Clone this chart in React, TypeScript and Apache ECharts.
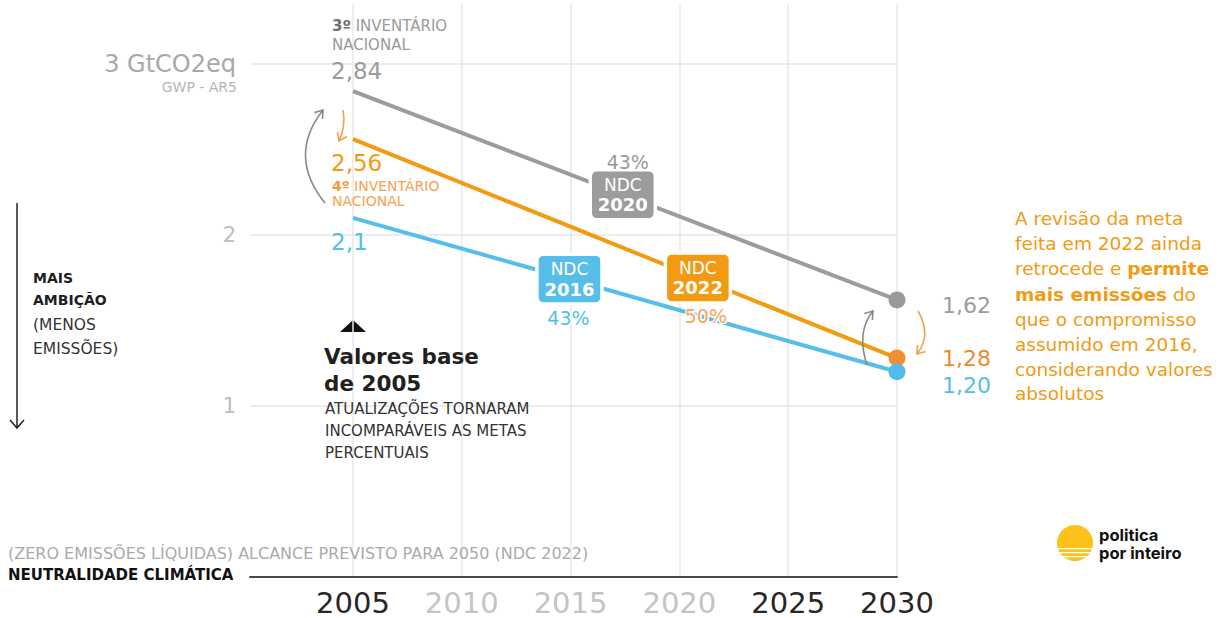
import React, { useEffect, useRef } from 'react';
import * as echarts from 'echarts';

// ---- data ----
const years = [2005, 2030];
const ndc2020 = [2.84, 1.62]; // 3º inventário nacional
const ndc2022 = [2.56, 1.28]; // 4º inventário nacional
const ndc2016 = [2.1, 1.2];
const xTickYears = [2005, 2010, 2015, 2020, 2025, 2030];
const darkYears = [2005, 2025, 2030];
const badgeYears = [2017.4, 2014.95, 2020.85]; // 2020, 2016, 2022
const badgeLabels = ['2020', '2016', '2022'];
const reductionLabels = ['43%', '43%', '50%'];
const startLabels = ['2,84', '2,56', '2,1'];
const endLabels = ['1,62', '1,28', '1,20'];

const GRAY = '#9b9b9b';
const ORANGE = '#f29a12';
const BLUE = '#56bee9';
const FONT = '"DejaVu Sans", "Noto Sans", sans-serif';

const interp = (year: number, vals: number[]) =>
  vals[0] + ((year - years[0]) / (years[1] - years[0])) * (vals[1] - vals[0]);

const BADGE_PATH =
  'path://M6,0H59A6,6,0,0,1,65,6V43A6,6,0,0,1,59,49H6A6,6,0,0,1,0,43V6A6,6,0,0,1,6,0Z';

function lineSeries(
  name: string,
  vals: number[],
  color: string,
  dotColor: string,
  idx: number,
  pctColor: string,
  pctOffset: number[]
) {
  const bx = badgeYears[idx];
  const by = interp(bx, vals);
  return {
    type: 'line',
    name,
    z: 3,
    silent: true,
    showSymbol: true,
    data: years.map((y, i) => ({
      value: [y, vals[i]],
      symbol: i === 0 ? 'none' : 'circle',
      symbolSize: 17,
      itemStyle: { color: dotColor },
    })),
    lineStyle: { color, width: 4 },
    itemStyle: { color: dotColor },
    emphasis: { disabled: true },
    markPoint: {
      silent: true,
      z: 10,
      data: [
        {
          coord: [bx, by],
          symbol: BADGE_PATH,
          symbolSize: [65, 49],
          itemStyle: { color, borderColor: '#ffffff', borderWidth: 3 },
          label: {
            show: true,
            position: 'inside',
            formatter: `{a|NDC}\n{b|${badgeLabels[idx]}}`,
            rich: {
              a: { fontSize: 17, color: '#ffffff', fontFamily: FONT, lineHeight: 20 },
              b: { fontSize: 18, fontWeight: 'bold', color: '#ffffff', fontFamily: FONT, lineHeight: 20 },
            },
          },
        },
        {
          coord: [bx, by],
          symbol: 'circle',
          symbolSize: 0,
          itemStyle: { color: 'rgba(0,0,0,0)' },
          label: {
            show: true,
            position: 'inside',
            offset: pctOffset,
            formatter: reductionLabels[idx],
            color: pctColor,
            fontSize: 19,
            fontFamily: FONT,
            textBorderColor: '#ffffff',
            textBorderWidth: 3,
          },
        },
      ],
    },
  };
}

function txt(x: number, y: number, text: string, o: any = {}) {
  return {
    type: 'text',
    x,
    y,
    silent: true,
    z: 20,
    style: {
      text,
      fill: o.fill || '#333',
      fontSize: o.fontSize || 14,
      fontWeight: o.fontWeight || 'normal',
      fontFamily: o.fontFamily || FONT,
      lineHeight: o.lineHeight,
      align: o.align || 'left',
      textAlign: o.align || 'left',
      verticalAlign: o.vAlign || 'middle',
      textVerticalAlign: o.vAlign || 'middle',
      rich: o.rich,
    },
  };
}

function arrow(x1: number, y1: number, cx: number, cy: number, x2: number, y2: number, color: string) {
  const dx = x2 - cx;
  const dy = y2 - cy;
  const len = Math.sqrt(dx * dx + dy * dy);
  const bx = -dx / len;
  const by = -dy / len;
  const L = 9;
  const a = (35 * Math.PI) / 180;
  const w1 = [x2 + L * (bx * Math.cos(a) - by * Math.sin(a)), y2 + L * (bx * Math.sin(a) + by * Math.cos(a))];
  const w2 = [x2 + L * (bx * Math.cos(-a) - by * Math.sin(-a)), y2 + L * (bx * Math.sin(-a) + by * Math.cos(-a))];
  return [
    {
      type: 'bezierCurve',
      silent: true,
      z: 20,
      shape: { x1, y1, x2, y2, cpx1: cx, cpy1: cy },
      style: { stroke: color, lineWidth: 1.6, fill: 'none' },
    },
    {
      type: 'polyline',
      silent: true,
      z: 20,
      shape: { points: [w1, [x2, y2], w2] },
      style: { stroke: color, lineWidth: 1.6, fill: 'none' },
    },
  ];
}

export default function App() {
  const ref = useRef<HTMLDivElement>(null);

  useEffect(() => {
    if (!ref.current) return;
    const chart = echarts.init(ref.current, undefined, { renderer: 'svg' });

    const RS = 18.5;
    const boldOrange = { fontWeight: 'bold', fill: ORANGE, color: ORANGE, fontSize: RS, fontFamily: FONT };

    const graphic: any[] = [
      // top-left inventory labels
      txt(332, 16, '{b|3º} INVENTÁRIO\nNACIONAL', {
        fill: '#9a9a9a',
        fontSize: 15,
        lineHeight: 19,
        rich: { b: { fontWeight: 'bold', fill: '#6f6f6f', color: '#6f6f6f', fontSize: 15, fontFamily: FONT, lineHeight: 19 } },
        vAlign: 'top',
      }),
      txt(331, 71, startLabels[0], { fill: GRAY, fontSize: 23 }),
      txt(331, 163, startLabels[1], { fill: ORANGE, fontSize: 23 }),
      txt(332, 178, '{b|4º} INVENTÁRIO\nNACIONAL', {
        fill: '#f5a24e',
        fontSize: 14,
        lineHeight: 15,
        rich: { b: { fontWeight: 'bold', fill: '#f29a3e', color: '#f29a3e', fontSize: 14, fontFamily: FONT, lineHeight: 15 } },
        vAlign: 'top',
      }),
      txt(331, 242, startLabels[2], { fill: BLUE, fontSize: 23 }),
      // y axis subtitle
      txt(237, 87, 'GWP - AR5', { fill: '#b5b5b5', fontSize: 14, align: 'right' }),
      // end labels
      txt(942, 305, endLabels[0], { fill: GRAY, fontSize: 22 }),
      txt(942, 358, endLabels[1], { fill: '#ef8a2a', fontSize: 22 }),
      txt(942, 385, endLabels[2], { fill: BLUE, fontSize: 22 }),
      // left ambition note
      { type: 'line', silent: true, shape: { x1: 17, y1: 203, x2: 17, y2: 428 }, style: { stroke: '#222', lineWidth: 1.5 } },
      { type: 'polyline', silent: true, shape: { points: [[10, 420], [17, 428], [24, 420]] }, style: { stroke: '#222', lineWidth: 1.5, fill: 'none' } },
      txt(33, 278, 'MAIS', { fill: '#1e1e1e', fontWeight: 'bold', fontSize: 14 }),
      txt(33, 300, 'AMBIÇÃO', { fill: '#1e1e1e', fontWeight: 'bold', fontSize: 14 }),
      txt(33, 325, '(MENOS', { fill: '#333', fontSize: 15.5 }),
      txt(33, 349, 'EMISSÕES)', { fill: '#333', fontSize: 15.5 }),
      // base values note
      { type: 'polygon', silent: true, shape: { points: [[340, 332], [366, 332], [353, 320]] }, style: { fill: '#111' } },
      txt(324, 356, 'Valores base', { fill: '#231f20', fontWeight: 'bold', fontSize: 21.5 }),
      txt(324, 383, 'de 2005', { fill: '#231f20', fontWeight: 'bold', fontSize: 21.5 }),
      txt(325, 409, 'ATUALIZAÇÕES TORNARAM', { fill: '#333', fontSize: 15 }),
      txt(325, 431, 'INCOMPARÁVEIS AS METAS', { fill: '#333', fontSize: 15 }),
      txt(325, 453, 'PERCENTUAIS', { fill: '#333', fontSize: 15 }),
      // right note
      txt(1015, 218, 'A revisão da meta', { fill: ORANGE, fontSize: RS }),
      txt(1015, 243, 'feita em 2022 ainda', { fill: ORANGE, fontSize: RS }),
      txt(1015, 268, 'retrocede e {b|permite}', { fill: ORANGE, fontSize: RS, rich: { b: boldOrange } }),
      txt(1015, 294, '{b|mais emissões} do', { fill: ORANGE, fontSize: RS, rich: { b: boldOrange } }),
      txt(1015, 319, 'que o compromisso', { fill: ORANGE, fontSize: RS }),
      txt(1015, 344, 'assumido em 2016,', { fill: ORANGE, fontSize: RS }),
      txt(1015, 369, 'considerando valores', { fill: ORANGE, fontSize: RS }),
      txt(1015, 393, 'absolutos', { fill: ORANGE, fontSize: RS }),
      // bottom notes
      txt(8, 553, '(ZERO EMISSÕES LÍQUIDAS) ALCANCE PREVISTO PARA 2050 (NDC 2022)', { fill: '#aaaaaa', fontSize: 16 }),
      txt(8, 575, 'NEUTRALIDADE CLIMÁTICA', { fill: '#111', fontWeight: 'bold', fontSize: 15 }),
      // logo
      { type: 'circle', silent: true, shape: { cx: 1075, cy: 543, r: 18 }, style: { fill: '#fcc21b' } },
      { type: 'rect', silent: true, shape: { x: 1055, y: 548, width: 40, height: 1.3 }, style: { fill: '#fff' } },
      { type: 'rect', silent: true, shape: { x: 1055, y: 552, width: 40, height: 1.3 }, style: { fill: '#fff' } },
      { type: 'rect', silent: true, shape: { x: 1055, y: 556, width: 40, height: 1.3 }, style: { fill: '#fff' } },
      txt(1099, 526, 'politica\npor inteiro', {
        fill: '#111',
        fontWeight: 'bold',
        fontSize: 16.5,
        lineHeight: 18,
        fontFamily: 'Inter, sans-serif',
        vAlign: 'top',
      }),
      // arrows
      ...arrow(325, 203, 287, 156, 323, 110, '#8a8a8a'),
      ...arrow(343, 110, 346, 126, 339, 141, '#f2a04e'),
      ...arrow(867, 365, 856, 332, 873, 311, '#8a8a8a'),
      ...arrow(918, 311, 932, 335, 917, 354, '#f2a04e'),
    ];

    chart.setOption({
      animation: false,
      grid: { left: 250, right: 334, top: 4, bottom: 41, containLabel: false },
      xAxis: {
        type: 'value',
        min: 2000.27,
        max: 2030,
        axisLine: { show: true, onZero: false, lineStyle: { color: '#4a4a4a', width: 2 } },
        axisTick: { show: false, customValues: xTickYears },
        axisLabel: {
          customValues: xTickYears,
          margin: 11,
          formatter: (v: number) => (darkYears.includes(v) ? `{d|${v}}` : `{l|${v}}`),
          rich: {
            d: { fontSize: 29, color: '#2b2524', fontFamily: FONT },
            l: { fontSize: 29, color: '#c4c4c4', fontFamily: FONT },
          },
        },
        splitLine: { show: true, lineStyle: { color: '#e9e9e9', width: 1.5 } },
      },
      yAxis: {
        type: 'value',
        min: 0,
        max: 3.35,
        interval: 1,
        axisLine: { show: false },
        axisTick: { show: false },
        axisLabel: {
          margin: 14,
          formatter: (v: number) => (v === 3 ? '{t|3 GtCO2eq}' : v === 1 || v === 2 ? `{n|${v}}` : ''),
          rich: {
            t: { fontSize: 24, color: '#a8a8a8', fontFamily: FONT },
            n: { fontSize: 21, color: '#bdbdbd', fontFamily: FONT },
          },
        },
        splitLine: {
          show: true,
          showMinLine: false,
          showMaxLine: false,
          lineStyle: { color: '#e6e6e6', width: 1.5 },
        },
      },
      series: [
        lineSeries('NDC 2020', ndc2020, '#9c9c9c', '#999999', 0, '#9a9a9a', [5, -33]),
        lineSeries('NDC 2022', ndc2022, ORANGE, '#ef8f2e', 2, '#f5a65b', [8, 38]),
        lineSeries('NDC 2016', ndc2016, BLUE, '#52bbea', 1, BLUE, [-1, 39]),
      ],
      graphic,
    });

    return () => chart.dispose();
  }, []);

  return (
    <div
      ref={ref}
      style={{ position: 'fixed', left: 0, top: 0, width: 1231, height: 618, background: '#fff' }}
    />
  );
}
